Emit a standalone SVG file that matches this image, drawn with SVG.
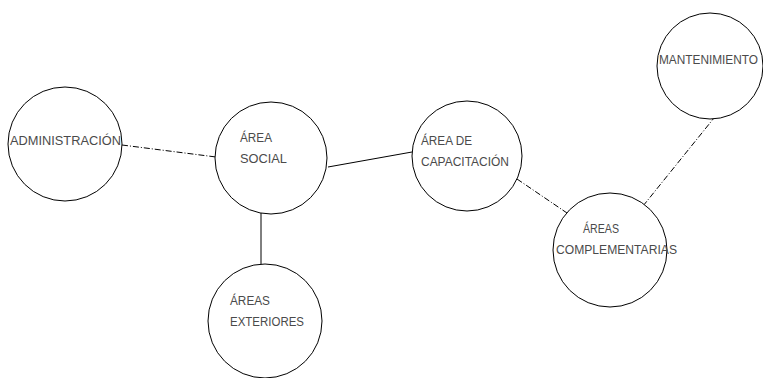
<svg xmlns="http://www.w3.org/2000/svg" width="763" height="378" viewBox="0 0 763 378">
  <style>
    .node circle { fill: #fff; stroke: #000; stroke-width: 1; }
    .node text { font-family: "Liberation Sans", "DejaVu Sans", sans-serif; font-size: 12.5px; fill: #4a4a4a; }
    .solid { stroke: #000; stroke-width: 1; fill: none; }
    .dashdot { stroke: #000; stroke-width: 1; fill: none; stroke-dasharray: 6 2 1 2; }
  </style>
  <rect width="763" height="378" fill="#fff"/>

  <!-- connectors -->
  <g id="connectors">
    <line class="dashdot" x1="122" y1="145" x2="216" y2="157"/>
    <line class="solid" x1="328" y1="167" x2="412" y2="152"/>
    <line class="solid" x1="261" y1="213" x2="261" y2="265"/>
    <line class="dashdot" x1="517" y1="179" x2="567" y2="213"/>
    <line class="dashdot" x1="643" y1="206" x2="714" y2="118"/>
  </g>

  <g id="administracion" class="node">
    <circle cx="65" cy="144" r="57"/>
    <text x="10" y="145" textLength="111" lengthAdjust="spacingAndGlyphs">ADMINISTRACIÓN</text>
  </g>

  <g id="area-social" class="node">
    <circle cx="271" cy="158" r="56"/>
    <text x="240" y="142" textLength="32" lengthAdjust="spacingAndGlyphs">ÁREA</text>
    <text x="240" y="163" textLength="47" lengthAdjust="spacingAndGlyphs">SOCIAL</text>
  </g>

  <g id="area-capacitacion" class="node">
    <circle cx="467" cy="156" r="55"/>
    <text x="421" y="145" textLength="51" lengthAdjust="spacingAndGlyphs">ÁREA DE</text>
    <text x="421" y="166" textLength="88" lengthAdjust="spacingAndGlyphs">CAPACITACIÓN</text>
  </g>

  <g id="areas-complementarias" class="node">
    <circle cx="610" cy="250" r="57"/>
    <text x="583" y="233" textLength="36" lengthAdjust="spacingAndGlyphs">ÁREAS</text>
    <text x="556" y="254" textLength="121" lengthAdjust="spacingAndGlyphs">COMPLEMENTARIAS</text>
  </g>

  <g id="mantenimiento" class="node">
    <circle cx="710" cy="66" r="53"/>
    <text x="659" y="64" textLength="99" lengthAdjust="spacingAndGlyphs">MANTENIMIENTO</text>
  </g>

  <g id="areas-exteriores" class="node">
    <circle cx="265" cy="321" r="57"/>
    <text x="230" y="305" textLength="40" lengthAdjust="spacingAndGlyphs">ÁREAS</text>
    <text x="230" y="326" textLength="74" lengthAdjust="spacingAndGlyphs">EXTERIORES</text>
  </g>
</svg>
